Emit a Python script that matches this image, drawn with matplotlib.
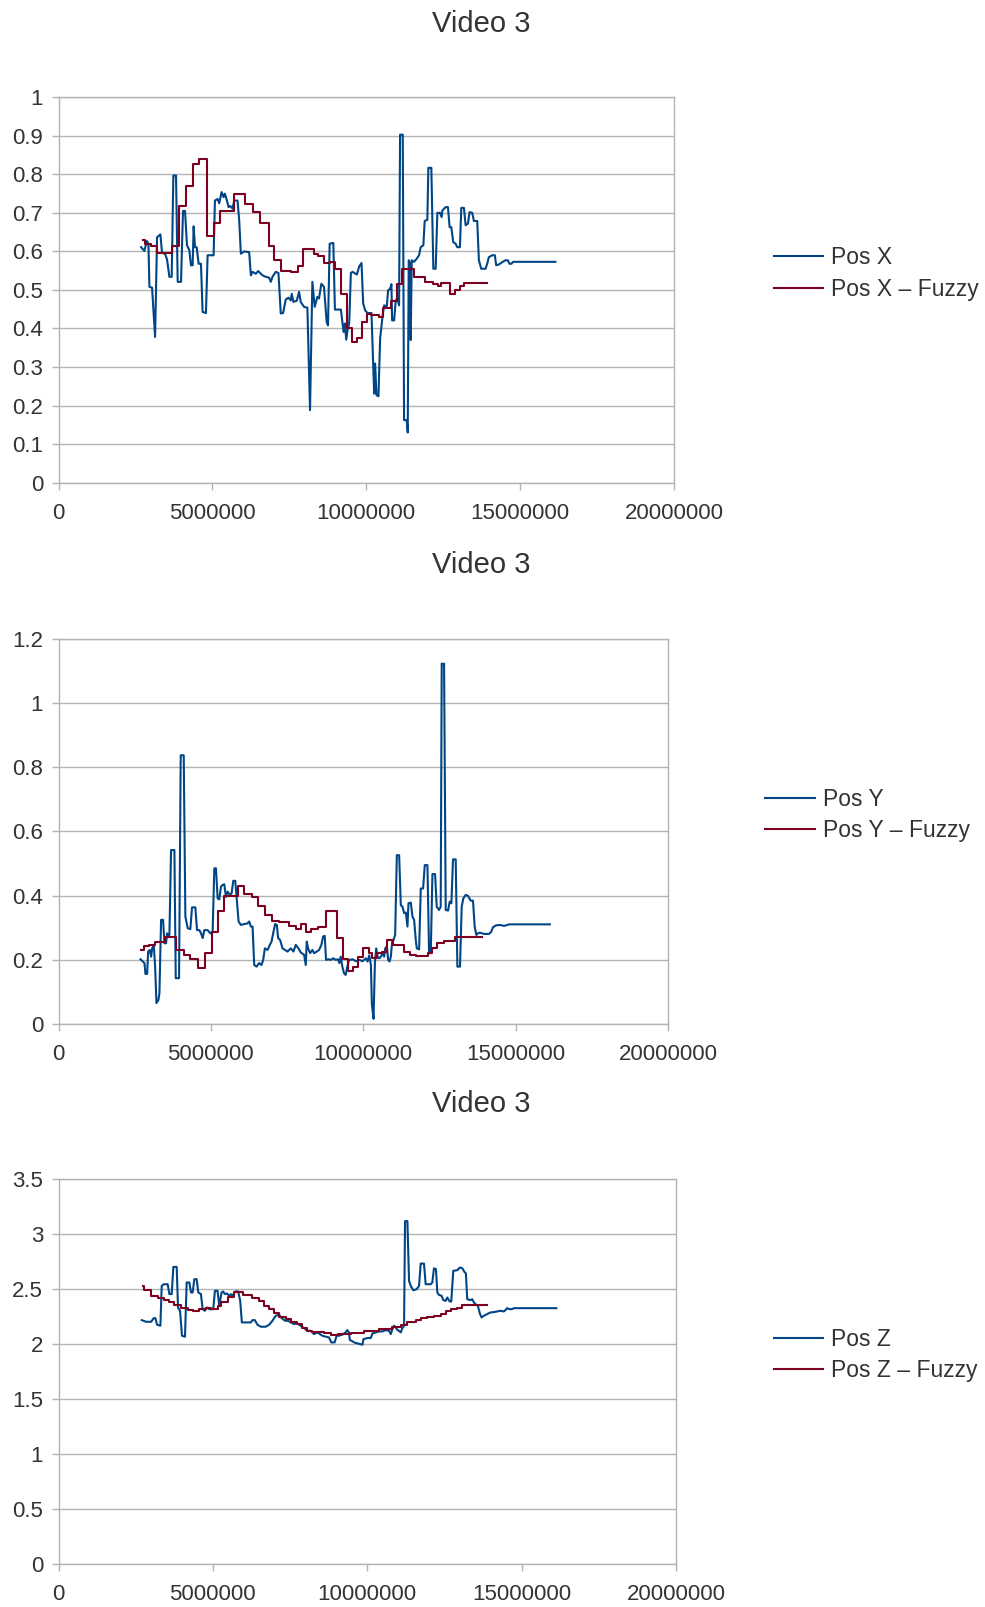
import numpy as np
import matplotlib
matplotlib.use('Agg')
import matplotlib.pyplot as plt
from matplotlib.ticker import FuncFormatter, MultipleLocator

plt.rcParams['font.family'] = ['Liberation Sans', 'DejaVu Sans']

SCALE = 1e6  # time values below are in millions

# ---------------- Chart 1: Pos X ----------------
posx_t = [2.684, 2.79, 2.868, 2.922, 2.954, 3.04, 3.138, 3.203, 3.311, 3.365, 3.462, 3.527, 3.603, 3.678,
          3.732, 3.819, 3.873, 3.981, 4.046, 4.111, 4.175, 4.251, 4.305, 4.359, 4.391, 4.435, 4.489, 4.554,
          4.629, 4.683, 4.791, 4.845, 4.953, 5.04, 5.083, 5.169, 5.223, 5.299, 5.364, 5.407, 5.472, 5.526,
          5.58, 5.656, 5.71, 5.818, 5.872, 5.926, 6.034, 6.196, 6.25, 6.304, 6.412, 6.488, 6.628, 6.736,
          6.844, 6.898, 6.952, 7.06, 7.147, 7.222, 7.298, 7.384, 7.471, 7.547, 7.579, 7.633, 7.741, 7.817,
          7.871, 7.979, 8.087, 8.173, 8.249, 8.325, 8.411, 8.465, 8.541, 8.627, 8.713, 8.757, 8.811, 8.93,
          8.982, 9.176, 9.230, 9.263, 9.306, 9.349, 9.392, 9.446, 9.500, 9.554, 9.695, 9.770, 9.846, 9.900,
          9.965, 10.04, 10.17, 10.224, 10.257, 10.289, 10.332, 10.397, 10.451, 10.527, 10.581, 10.667,
          10.71, 10.775, 10.818, 10.84, 10.905, 10.959, 11.013, 11.067, 11.099, 11.186, 11.229, 11.315,
          11.348, 11.38, 11.424, 11.445, 11.478, 11.553, 11.64, 11.715, 11.769, 11.856, 11.899, 11.985,
          12.018, 12.115, 12.18, 12.256, 12.31, 12.396, 12.45, 12.472, 12.58, 12.655, 12.709, 12.763,
          12.828, 12.904, 12.958, 13.044, 13.088, 13.174, 13.228, 13.304, 13.358, 13.444, 13.498, 13.606,
          13.66, 13.736, 13.876, 13.93, 13.984, 14.092, 14.179, 14.222, 14.308, 14.416, 14.524, 14.6,
          14.654, 14.719, 14.773, 16.145]
posx_v = [0.611, 0.601, 0.627, 0.620, 0.508, 0.506, 0.378, 0.637, 0.644, 0.596, 0.594, 0.579, 0.534, 0.534,
          0.797, 0.797, 0.521, 0.521, 0.705, 0.705, 0.616, 0.603, 0.564, 0.564, 0.665, 0.611, 0.611, 0.568,
          0.568, 0.443, 0.440, 0.590, 0.590, 0.590, 0.732, 0.736, 0.725, 0.754, 0.741, 0.750, 0.732, 0.715,
          0.718, 0.711, 0.732, 0.732, 0.680, 0.594, 0.600, 0.598, 0.538, 0.547, 0.542, 0.549, 0.538, 0.534,
          0.532, 0.521, 0.534, 0.547, 0.544, 0.439, 0.440, 0.475, 0.480, 0.473, 0.490, 0.469, 0.472, 0.495,
          0.469, 0.456, 0.454, 0.188, 0.521, 0.456, 0.482, 0.478, 0.516, 0.508, 0.417, 0.408, 0.620, 0.622,
          0.449, 0.449, 0.413, 0.391, 0.413, 0.371, 0.396, 0.413, 0.544, 0.547, 0.540, 0.561, 0.570, 0.465,
          0.447, 0.440, 0.440, 0.309, 0.231, 0.309, 0.227, 0.224, 0.374, 0.430, 0.460, 0.457,
          0.499, 0.503, 0.515, 0.421, 0.421, 0.473, 0.477, 0.460, 0.903, 0.903, 0.162, 0.162,
          0.130, 0.577, 0.568, 0.370, 0.577, 0.573, 0.581, 0.590, 0.611, 0.616, 0.679, 0.682,
          0.817, 0.817, 0.555, 0.555, 0.700, 0.700, 0.689, 0.706, 0.715, 0.715, 0.663, 0.663,
          0.624, 0.620, 0.611, 0.611, 0.713, 0.713, 0.668, 0.672, 0.702, 0.700, 0.679, 0.679,
          0.577, 0.555, 0.555, 0.568, 0.585, 0.590, 0.590, 0.564, 0.566, 0.572, 0.577, 0.577,
          0.568, 0.568, 0.573, 0.573]

fuzzyx_t = [2.738, 2.825, 3.008, 3.203, 3.678, 3.927, 4.143, 4.359, 4.575, 4.813, 5.061, 5.245, 5.71, 6.055,
            6.336, 6.542, 6.833, 7.006, 7.244, 7.568, 7.784, 7.946, 8.292, 8.432, 8.627, 8.811, 8.973,
            9.176, 9.371, 9.522, 9.706, 9.868, 10.04, 10.17, 10.419, 10.548, 10.797, 11.013, 11.175,
            11.553, 11.899, 12.169, 12.331, 12.439, 12.709, 12.871, 13.034, 13.174, 13.93]
fuzzyx_v = [0.630, 0.619, 0.613, 0.597, 0.614, 0.718, 0.771, 0.826, 0.839, 0.640, 0.674, 0.705, 0.748, 0.724,
            0.702, 0.674, 0.613, 0.579, 0.548, 0.546, 0.561, 0.605, 0.594, 0.587, 0.570, 0.572, 0.555,
            0.490, 0.400, 0.365, 0.376, 0.417, 0.437, 0.434, 0.430, 0.452, 0.472, 0.516, 0.554,
            0.534, 0.521, 0.516, 0.509, 0.518, 0.490, 0.500, 0.509, 0.518, 0.518]

# ---------------- Chart 2: Pos Y ----------------
posy_t = [2.69, 2.766, 2.821, 2.853, 2.908, 2.941, 2.995, 3.039, 3.072, 3.126, 3.17, 3.214, 3.279, 3.312,
          3.366, 3.432, 3.476, 3.53, 3.563, 3.607, 3.639, 3.694, 3.803, 3.847, 3.956, 4.01, 4.109, 4.163,
          4.24, 4.327, 4.381, 4.49, 4.545, 4.622, 4.676, 4.731, 4.785, 4.894, 4.982, 5.058, 5.113, 5.167,
          5.222, 5.276, 5.331, 5.386, 5.44, 5.495, 5.549, 5.626, 5.68, 5.735, 5.8, 5.844, 5.909, 5.986,
          6.095, 6.204, 6.258, 6.313, 6.368, 6.422, 6.499, 6.586, 6.662, 6.717, 6.771, 6.859, 6.935, 6.99,
          7.055, 7.11, 7.164, 7.208, 7.273, 7.35, 7.437, 7.514, 7.623, 7.71, 7.786, 7.874, 7.95, 8.059,
          8.114, 8.146, 8.19, 8.256, 8.332, 8.387, 8.474, 8.55, 8.627, 8.681, 8.736, 8.779, 8.856, 8.932,
          9.019, 9.096, 9.172, 9.216, 9.26, 9.314, 9.369, 9.423, 9.478, 9.533, 9.574, 9.650, 9.76, 9.869,
          9.978, 10.087, 10.142, 10.196, 10.251, 10.283, 10.338, 10.382, 10.425, 10.469, 10.524, 10.578,
          10.633, 10.687, 10.72, 10.774, 10.818, 10.862, 10.905, 10.949, 10.993, 11.047, 11.102, 11.178,
          11.233, 11.287, 11.342, 11.397, 11.451, 11.484, 11.56, 11.615, 11.669, 11.724, 11.757, 11.833,
          11.888, 11.964, 12.019, 12.106, 12.16, 12.215, 12.27, 12.357, 12.411, 12.488, 12.542, 12.575,
          12.652, 12.706, 12.783, 12.837, 12.892, 12.946, 13.034, 13.088, 13.175, 13.23, 13.284, 13.361,
          13.437, 13.525, 13.601, 13.656, 13.71, 13.765, 13.83, 13.961, 14.125, 14.201, 14.256, 14.365,
          14.507, 14.616, 14.725, 14.78, 16.122]
posy_v = [0.201, 0.194, 0.189, 0.155, 0.155, 0.225, 0.230, 0.209, 0.235, 0.246, 0.178, 0.064, 0.074, 0.095,
          0.324, 0.324, 0.251, 0.251, 0.282, 0.274, 0.277, 0.542, 0.542, 0.142, 0.142, 0.838, 0.838, 0.334,
          0.298, 0.295, 0.363, 0.363, 0.292, 0.292, 0.282, 0.267, 0.292, 0.292, 0.282, 0.287, 0.485, 0.485,
          0.391, 0.388, 0.428, 0.433, 0.435, 0.396, 0.412, 0.402, 0.407, 0.446, 0.446, 0.396, 0.319, 0.308,
          0.311, 0.313, 0.319, 0.303, 0.303, 0.183, 0.178, 0.189, 0.183, 0.199, 0.235, 0.230, 0.246, 0.256,
          0.287, 0.311, 0.308, 0.267, 0.261, 0.235, 0.230, 0.225, 0.235, 0.225, 0.246, 0.235, 0.222, 0.215,
          0.183, 0.256, 0.235, 0.220, 0.230, 0.220, 0.225, 0.230, 0.246, 0.272, 0.274, 0.199, 0.201, 0.199,
          0.204, 0.199, 0.201, 0.189, 0.209, 0.178, 0.157, 0.152, 0.178, 0.199, 0.199, 0.201, 0.195, 0.199,
          0.195, 0.204, 0.194, 0.213, 0.184, 0.060, 0.015, 0.189, 0.235, 0.209, 0.204, 0.209,
          0.220, 0.209, 0.235, 0.241, 0.199, 0.194, 0.209, 0.256, 0.261, 0.277, 0.526, 0.526,
          0.370, 0.365, 0.345, 0.347, 0.303, 0.376, 0.378, 0.334, 0.324, 0.261, 0.235, 0.232,
          0.422, 0.422, 0.495, 0.495, 0.220, 0.220, 0.467, 0.467, 0.365, 0.355, 0.365, 1.124,
          1.124, 0.355, 0.353, 0.381, 0.376, 0.513, 0.513, 0.178, 0.178, 0.365, 0.391, 0.402,
          0.399, 0.384, 0.384, 0.303, 0.277, 0.282, 0.284, 0.280, 0.280, 0.287, 0.301, 0.307,
          0.308, 0.305, 0.308, 0.310, 0.310]

fuzzyy_t = [2.712, 2.799, 2.984, 3.181, 3.508, 3.858, 4.13, 4.327, 4.567, 4.807, 5.047, 5.222, 5.418, 5.877,
            6.073, 6.335, 6.531, 6.771, 6.99, 7.24, 7.557, 7.786, 7.95, 8.136, 8.3, 8.518, 8.769,
            9.137, 9.323, 9.508, 9.672, 9.836, 9.999, 10.196, 10.272, 10.436, 10.6, 10.763, 10.982,
            11.342, 11.528, 11.746, 12.128, 12.27, 12.433, 12.652, 13.001, 13.907]
fuzzyy_v = [0.230, 0.243, 0.246, 0.256, 0.269, 0.230, 0.215, 0.201, 0.173, 0.222, 0.287, 0.352, 0.399, 0.430,
            0.405, 0.394, 0.367, 0.339, 0.322, 0.318, 0.305, 0.295, 0.311, 0.287, 0.295, 0.301, 0.352,
            0.267, 0.201, 0.163, 0.178, 0.209, 0.235, 0.220, 0.204, 0.220, 0.223, 0.261, 0.246,
            0.225, 0.215, 0.211, 0.220, 0.235, 0.251, 0.259, 0.270, 0.270]

# ---------------- Chart 3: Pos Z ----------------
posz_t = [2.697, 2.837, 2.999, 3.085, 3.139, 3.193, 3.3, 3.343, 3.408, 3.537, 3.591, 3.666, 3.72, 3.828,
          3.871, 3.936, 4.0, 4.097, 4.151, 4.237, 4.291, 4.345, 4.399, 4.474, 4.528, 4.614, 4.668, 4.743,
          4.797, 4.883, 5.012, 5.066, 5.152, 5.206, 5.282, 5.335, 5.389, 5.454, 5.529, 5.583, 5.637, 5.723,
          5.82, 5.885, 5.939, 6.068, 6.229, 6.283, 6.359, 6.445, 6.552, 6.714, 6.822, 6.929, 7.037, 7.145,
          7.231, 7.339, 7.435, 7.522, 7.629, 7.737, 7.845, 7.952, 8.06, 8.168, 8.275, 8.383, 8.545, 8.652,
          8.76, 8.835, 8.943, 9.008, 9.083, 9.191, 9.298, 9.352, 9.406, 9.438, 9.491, 9.577, 9.684, 9.771,
          9.846, 9.878, 10.008, 10.115, 10.169, 10.277, 10.384, 10.492, 10.6, 10.707, 10.761, 10.815,
          10.869, 10.923, 10.977, 11.031, 11.084, 11.138, 11.192, 11.224, 11.3, 11.354, 11.408, 11.494,
          11.601, 11.677, 11.731, 11.838, 11.892, 12.054, 12.107, 12.161, 12.226, 12.269, 12.323, 12.409,
          12.463, 12.538, 12.592, 12.668, 12.721, 12.786, 12.915, 13.001, 13.077, 13.152, 13.195, 13.238,
          13.346, 13.4, 13.454, 13.529, 13.583, 13.647, 13.701, 13.777, 13.884, 13.992, 14.1, 14.207,
          14.315, 14.423, 14.477, 14.53, 14.606, 14.692, 14.746, 16.124]
posz_v = [2.218, 2.203, 2.203, 2.236, 2.236, 2.176, 2.167, 2.530, 2.545, 2.545, 2.455, 2.455, 2.703, 2.703,
          2.333, 2.303, 2.076, 2.067, 2.561, 2.561, 2.470, 2.470, 2.591, 2.591, 2.470, 2.455, 2.318, 2.303,
          2.333, 2.318, 2.318, 2.485, 2.485, 2.348, 2.470, 2.479, 2.455, 2.461, 2.439, 2.455, 2.439, 2.479,
          2.479, 2.394, 2.197, 2.197, 2.197, 2.218, 2.218, 2.176, 2.158, 2.158, 2.176, 2.212, 2.258, 2.267,
          2.236, 2.212, 2.212, 2.197, 2.182, 2.188, 2.167, 2.145, 2.121, 2.121, 2.091, 2.106, 2.076, 2.067,
          2.061, 2.015, 2.015, 2.076, 2.076, 2.085, 2.106, 2.127, 2.106, 2.036, 2.030, 2.015, 2.006, 2.000,
          1.994, 2.045, 2.055, 2.055, 2.097, 2.106, 2.115, 2.115, 2.127, 2.121, 2.091, 2.136,
          2.167, 2.152, 2.127, 2.121, 2.106, 2.145, 2.167, 3.120, 3.120, 2.576, 2.530, 2.490,
          2.500, 2.530, 2.733, 2.733, 2.545, 2.545, 2.561, 2.690, 2.682, 2.470, 2.448, 2.439,
          2.400, 2.394, 2.424, 2.388, 2.388, 2.667, 2.673, 2.697, 2.691, 2.655, 2.645, 2.409,
          2.400, 2.409, 2.379, 2.358, 2.348, 2.279, 2.242, 2.258, 2.273, 2.288, 2.291, 2.297,
          2.303, 2.297, 2.309, 2.327, 2.318, 2.318, 2.327, 2.327]

fuzzyz_t = [2.729, 2.762, 2.999, 3.214, 3.429, 3.591, 3.752, 3.968, 4.183, 4.345, 4.56, 4.776, 4.937, 5.152,
            5.26, 5.475, 5.691, 5.96, 6.283, 6.499, 6.66, 6.822, 6.983, 7.145, 7.36, 7.522, 7.737, 7.898,
            8.06, 8.222, 8.598, 8.814, 9.038, 9.469, 9.9, 10.384, 10.815, 11.084, 11.3, 11.569, 11.731,
            11.946, 12.161, 12.377, 12.538, 12.7, 12.915, 13.077, 13.238, 13.884]
fuzzyz_v = [2.530, 2.491, 2.439, 2.424, 2.400, 2.379, 2.355, 2.333, 2.309, 2.297, 2.318, 2.327, 2.318, 2.348,
            2.385, 2.430, 2.470, 2.445, 2.424, 2.394, 2.348, 2.318, 2.279, 2.248, 2.227, 2.203, 2.182, 2.145,
            2.121, 2.106, 2.097, 2.085, 2.091, 2.100, 2.115, 2.136, 2.158, 2.176, 2.197, 2.218, 2.236,
            2.248, 2.258, 2.273, 2.297, 2.318, 2.333, 2.355, 2.358, 2.358]

BLUE = '#004586'
RED = '#7e0021'
GRID = '#b3b3b3'
TXT = '#333333'

W, H = 985, 1607
fig = plt.figure(figsize=(W / 100, H / 100), dpi=100)


def add_ax(l, r, t, b):
    return fig.add_axes([l / W, 1 - b / H, (r - l) / W, (b - t) / H])


charts = [
    dict(box=(58.5, 674, 97.3, 482.6), ymax=1.0, ystep=0.1, t=posx_t, v=posx_v, ft=fuzzyx_t, fv=fuzzyx_v,
         lab='Pos X', title_y=23.6, leg=(773.6, 273.5)),
    dict(box=(58.5, 668, 639.4, 1023.6), ymax=1.2, ystep=0.2, t=posy_t, v=posy_v, ft=fuzzyy_t, fv=fuzzyy_v,
         lab='Pos Y', title_y=564.6, leg=(765.4, 815.0)),
    dict(box=(58.5, 676, 1179.4, 1563.6), ymax=3.5, ystep=0.5, t=posz_t, v=posz_v, ft=fuzzyz_t, fv=fuzzyz_v,
         lab='Pos Z', title_y=1104.5, leg=(773.6, 1355.0)),
]

for c in charts:
    ax = add_ax(*c['box'])
    l1, = ax.plot(np.array(c['t']) * SCALE, c['v'], color=BLUE, lw=1.5, zorder=3)
    l2, = ax.plot(np.array(c['ft']) * SCALE, c['fv'], color=RED, lw=1.5, zorder=4,
                  drawstyle='steps-post')
    ax.set_xlim(0, 20e6)
    ax.set_ylim(0, c['ymax'])
    ax.xaxis.set_major_locator(MultipleLocator(5e6))
    ax.yaxis.set_major_locator(MultipleLocator(c['ystep']))
    ax.xaxis.set_major_formatter(FuncFormatter(lambda x, p: f'{int(round(x))}'))
    ax.yaxis.set_major_formatter(FuncFormatter(lambda y, p: f'{round(y, 3):g}'))
    ax.grid(axis='y', color=GRID, lw=1.0)
    ax.set_axisbelow(True)
    for s in ax.spines.values():
        s.set_color(GRID)
        s.set_linewidth(1.0)
    ax.tick_params(axis='both', direction='out', length=5, width=1.0, color=GRID,
                   labelsize=16, labelcolor=TXT)
    ax.tick_params(axis='y', pad=6)
    ax.tick_params(axis='x', pad=10)
    fig.text(481.6 / W, 1 - c['title_y'] / H, 'Video 3', ha='center', va='center',
             fontsize=21, color=TXT)
    lx, ly = c['leg']
    ax.legend([l1, l2], [c['lab'], c['lab'] + ' – Fuzzy'], loc='center left',
              bbox_to_anchor=(lx / W, 1 - ly / H), bbox_transform=fig.transFigure,
              frameon=False, fontsize=16.5, handlelength=2.15, handletextpad=0.36,
              labelspacing=0.38, borderpad=0, borderaxespad=0, labelcolor=TXT)

fig.savefig('out.png', dpi=100)
